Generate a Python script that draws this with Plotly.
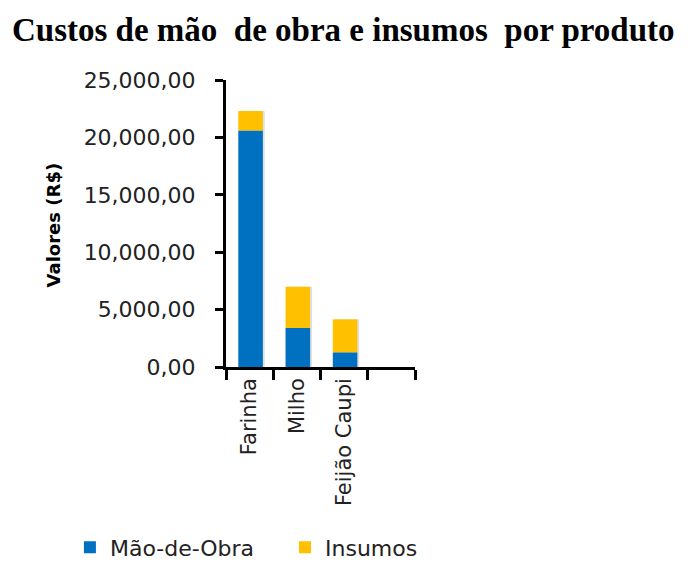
import plotly.graph_objects as go

produtos = ["Farinha", "Milho", "Feijão Caupi"]
mao_de_obra = [20600, 3400, 1280]
insumos = [1700, 3600, 2870]
eixo_x = produtos + [" "]
y_ticks = [0, 5000, 10000, 15000, 20000, 25000]
y_tick_labels = ["0,00", "5,000,00", "10,000,00", "15,000,00", "20,000,00", "25,000,00"]

total = [m + i for m, i in zip(mao_de_obra, insumos)]
fonte = "DejaVu Sans"

fig = go.Figure()

# soft shadow behind each stack
fig.add_trace(go.Bar(
    x=produtos, y=total, width=0.52, offset=-0.2,
    marker=dict(color="rgba(0,0,0,0.12)", line=dict(width=0)),
    showlegend=False, hoverinfo="skip",
))
fig.add_trace(go.Bar(
    x=produtos, y=mao_de_obra, name="Mão-de-Obra", width=0.52, offset=-0.24,
    marker=dict(color="#0070C0", line=dict(width=0)), legend="legend",
))
fig.add_trace(go.Bar(
    x=produtos, y=insumos, base=mao_de_obra, name="Insumos", width=0.52, offset=-0.24,
    marker=dict(color="#FFC000", line=dict(width=0)), legend="legend2",
))

legenda = dict(
    orientation="h", xref="container", yref="container",
    xanchor="left", y=0.028, yanchor="middle",
    font=dict(size=22, color="#222"), bgcolor="rgba(0,0,0,0)", itemwidth=30,
)

# the page body adds 8px, so the figure is 8px smaller than the window
fig.update_layout(
    width=688, height=555,
    barmode="overlay",
    plot_bgcolor="white", paper_bgcolor="white",
    margin=dict(l=218, r=281, t=72, b=196, autoexpand=False),
    font=dict(family=fonte, color="#222"),
    xaxis=dict(
        type="category", categoryorder="array", categoryarray=eixo_x,
        range=[-0.5, 3.5],
        tickson="boundaries", ticks="outside", ticklen=10, tickwidth=2.5, tickcolor="black",
        showline=True, linecolor="black", linewidth=2.5,
        tickangle=-90, tickfont=dict(size=21, color="#222"),
        showgrid=False, zeroline=False,
    ),
    xaxis2=dict(
        overlaying="x", anchor="y", type="linear", range=[-0.5, 3.5],
        tickvals=[-0.5, 0.5, 1.5, 2.5, 3.5],
        ticks="inside", ticklen=10, tickwidth=2.5, tickcolor="black",
        showticklabels=False, showgrid=False, zeroline=False, showline=False,
    ),
    yaxis=dict(
        range=[0, 25000], tickvals=y_ticks, ticktext=y_tick_labels,
        ticks="outside", ticklen=8, tickwidth=3, tickcolor="black",
        ticklabelstandoff=15,
        showline=True, linecolor="black", linewidth=3,
        tickfont=dict(size=22, color="#222"),
        showgrid=False, zeroline=False,
    ),
    yaxis2=dict(
        overlaying="y", anchor="x", range=[0, 25000], tickvals=y_ticks,
        ticks="inside", ticklen=8, tickwidth=3, tickcolor="black",
        showticklabels=False, showgrid=False, zeroline=False, showline=False,
    ),
    legend=dict(legenda, x=0.09),
    legend2=dict(legenda, x=0.4026),
    annotations=[
        dict(
            text="<b>Custos de mão  de obra e insumos  por produto</b>",
            x=-1.145, y=1.174, xref="paper", yref="paper",
            xanchor="left", yanchor="middle", showarrow=False,
            font=dict(family="Liberation Serif", size=33, color="black"),
        ),
        dict(
            text="<b>Valores (R$)</b>", textangle=-90,
            x=-0.979, y=0.495, xref="paper", yref="paper",
            showarrow=False, font=dict(size=18, color="black", family=fonte),
        ),
    ],
)

fig.write_html("out.html")
